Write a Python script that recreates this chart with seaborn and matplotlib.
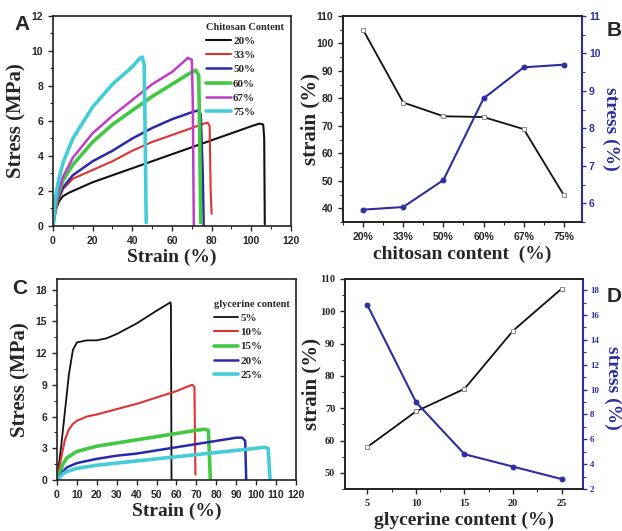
import numpy as np
import pandas as pd
import matplotlib
matplotlib.use("Agg")
import matplotlib.pyplot as plt
import seaborn as sns
from matplotlib.lines import Line2D
from matplotlib.ticker import MultipleLocator

sns.set_style("ticks")
plt.rcParams['font.family'] = ['Liberation Serif', 'DejaVu Serif']

# ---------------- Data ----------------
# Panel A: stress-strain curves vs chitosan content
a_labels = ["20%", "33%", "50%", "60%", "67%", "75%"]
a_colors = ["#111111", "#dd3333", "#2a2aa8", "#44c844", "#c03cc8", "#44ccd8"]
a_widths = [1.5, 1.5, 1.8, 2.6, 1.8, 2.6]
a_strain = [
    [0, 1, 3, 5, 8, 10, 20, 30, 40, 50, 60, 70, 80, 90, 100, 104, 106, 106.5, 106.8],
    [0, 2, 5, 10, 20, 30, 40, 50, 60, 70, 76, 78, 79, 79.5, 80],
    [0, 2, 5, 10, 20, 30, 40, 50, 60, 70, 73, 74.5, 75.5, 76],
    [0, 2, 5, 10, 20, 30, 40, 50, 60, 70, 72, 73.5, 74, 74.5],
    [0, 2, 5, 10, 20, 30, 40, 50, 60, 66, 68, 70, 70.5, 71],
    [0, 1, 3, 5, 10, 20, 30, 40, 44, 45, 46, 46.5, 47],
]
a_stress = [
    [0, 0.8, 1.4, 1.7, 1.9, 2.0, 2.5, 2.9, 3.3, 3.7, 4.1, 4.5, 4.9, 5.3, 5.7, 5.85, 5.8, 5.0, 0.1],
    [0, 1.3, 2.1, 2.7, 3.2, 3.7, 4.3, 4.8, 5.2, 5.6, 5.85, 5.9, 5.7, 2.0, 0.7],
    [0, 1.4, 2.2, 2.9, 3.7, 4.3, 5.0, 5.6, 6.1, 6.5, 6.6, 6.4, 3.0, 0.0],
    [0, 1.6, 2.6, 3.5, 4.8, 5.8, 6.6, 7.4, 8.1, 8.8, 8.9, 8.6, 5.0, 0.2],
    [0, 1.7, 2.8, 3.9, 5.3, 6.3, 7.2, 8.1, 8.8, 9.4, 9.6, 9.5, 7.0, 0.0],
    [0, 1.5, 2.7, 3.6, 5.0, 6.8, 8.1, 9.1, 9.6, 9.65, 9.2, 5.0, 0.2],
]

# Panel B: strain / stress vs chitosan content
b_cats = ["20%", "33%", "50%", "60%", "67%", "75%"]
b_strain = [105, 78.5, 73.5, 73.2, 68.8, 44.7]
b_stress = [5.83, 5.9, 6.62, 8.8, 9.63, 9.7]

# Panel C: stress-strain curves vs glycerine content
c_labels = ["5%", "10%", "15%", "20%", "25%"]
c_colors = ["#111111", "#dd3333", "#44c844", "#2a2aa8", "#44ccd8"]
c_widths = [1.3, 1.5, 2.6, 1.8, 2.6]
c_strain = [
    [0, 2, 4, 6, 8, 10, 15, 20, 25, 30, 40, 50, 57, 57.2, 57.5],
    [0, 2, 4, 6, 8, 10, 15, 20, 30, 40, 50, 60, 65, 68, 69, 69.5],
    [0, 3, 5, 10, 20, 30, 40, 50, 60, 70, 74, 76, 77],
    [0, 3, 5, 10, 20, 30, 40, 50, 60, 70, 80, 90, 93, 94.5, 95],
    [0, 3, 5, 10, 20, 30, 40, 50, 60, 70, 80, 90, 100, 104, 106, 107],
]
c_stress = [
    [0, 3, 6.5, 10, 12.3, 13, 13.2, 13.2, 13.4, 13.8, 14.8, 16.0, 16.8, 16.5, 0],
    [0, 2, 3.8, 4.8, 5.3, 5.6, 6.0, 6.2, 6.7, 7.2, 7.8, 8.4, 8.8, 9.0, 8.8, 0.5],
    [0, 1.5, 2.1, 2.7, 3.2, 3.5, 3.8, 4.1, 4.4, 4.7, 4.8, 4.7, 0],
    [0, 0.8, 1.2, 1.6, 2.0, 2.3, 2.5, 2.8, 3.1, 3.4, 3.7, 4.0, 4.0, 3.7, 0],
    [0, 0.6, 0.8, 1.1, 1.4, 1.6, 1.8, 2.0, 2.2, 2.4, 2.6, 2.8, 3.0, 3.1, 3.0, 0],
]

# Panel D: strain / stress vs glycerine content
d_x = [5, 10, 15, 20, 25]
d_strain = [58, 69, 76, 94, 107]
d_stress = [16.8, 9.0, 4.8, 3.8, 2.8]

BLUE = "#2e2ea0"
SANS = ['Liberation Sans', 'DejaVu Sans']
SERIF = ['Liberation Serif', 'DejaVu Serif']

fig = plt.figure(figsize=(6.22, 5.31), dpi=100)

axA = fig.add_axes([0.0852, 0.5744, 0.3826, 0.3955])
axB = fig.add_axes([0.5514, 0.5819, 0.3843, 0.3880])
axC = fig.add_axes([0.0916, 0.0960, 0.3843, 0.3786])
axD = fig.add_axes([0.5547, 0.0791, 0.3826, 0.3955])


def style_spines(ax, lw=1.2):
    for s in ax.spines.values():
        s.set_linewidth(lw)
        s.set_visible(True)
        s.set_color("#222222")


def curves(ax, labels, colors, widths, xs, ys, title, anchor):
    rows = []
    for lab, x, y in zip(labels, xs, ys):
        for i, (xx, yy) in enumerate(zip(x, y)):
            rows.append({"strain": xx, "stress": yy, "content": lab, "order": i})
    df = pd.DataFrame(rows)
    for lab, col, lw in zip(labels, colors, widths):
        sub = df[df.content == lab]
        sns.lineplot(data=sub, x="strain", y="stress", ax=ax, color=col,
                     linewidth=lw, sort=False, estimator=None, legend=False)
    handles = [Line2D([0], [0], color=c, lw=w) for c, w in zip(colors, widths)]
    leg = ax.legend(handles, labels, title=title, loc="upper right",
                    bbox_to_anchor=anchor,
                    frameon=False, handlelength=2.2, handletextpad=0.2,
                    labelspacing=0.4, borderaxespad=0.2,
                    prop={"family": SERIF, "weight": "bold", "size": 8})
    leg.get_title().set_fontfamily(SERIF)
    leg.get_title().set_fontweight("bold")
    leg.get_title().set_fontsize(7.5)
    leg._legend_box.align = "left"


# ---- Panel A ----
curves(axA, a_labels, a_colors, a_widths, a_strain, a_stress,
       "Chitosan Content", (1.0, 1.0))
axA.set_xlim(0, 120)
axA.set_ylim(0, 12)
axA.set_xticks(range(0, 121, 20))
axA.set_yticks(range(0, 13, 2))
axA.xaxis.set_minor_locator(MultipleLocator(10))
axA.yaxis.set_minor_locator(MultipleLocator(1))
axA.set_xlabel("Strain (%)", fontsize=14, fontweight="bold", labelpad=2)
axA.set_ylabel("Stress (MPa)", fontsize=15, fontweight="bold", labelpad=4)

# ---- Panel C ----
curves(axC, c_labels, c_colors, c_widths, c_strain, c_stress,
       "glycerine content", (1.0, 0.93))
axC.set_xlim(0, 120)
axC.set_ylim(0, 19)
axC.set_xticks(range(0, 121, 10))
axC.set_yticks(range(0, 19, 3))
axC.yaxis.set_minor_locator(MultipleLocator(1.5))
axC.set_xlabel("Strain (%)", fontsize=14, fontweight="bold", labelpad=2)
axC.set_ylabel("Stress (MPa)", fontsize=15, fontweight="bold", labelpad=4)

for ax in (axA, axC):
    style_spines(ax)
    ax.tick_params(which="major", direction="out", length=3.5, width=1, labelsize=7.5)
    ax.tick_params(which="minor", direction="out", length=2, width=0.8)
    for t in ax.get_xticklabels() + ax.get_yticklabels():
        t.set_fontfamily(SANS)
        t.set_fontweight("bold")


# ---- Panel B / D dual axes ----
def dual(ax, x, strain, stress, xlim, ylim1, ylim2, yt1, yt2, xlabel,
         lx, rx, ry, rsize):
    sns.lineplot(x=x, y=strain, ax=ax, color="#111111", linewidth=1.3,
                 marker="s", markersize=3.5, markerfacecolor="white",
                 markeredgecolor="#888888", markeredgewidth=0.7, sort=False)
    ax2 = ax.twinx()
    sns.lineplot(x=x, y=stress, ax=ax2, color=BLUE, linewidth=1.5,
                 marker="o", markersize=3.5, markerfacecolor=BLUE,
                 markeredgecolor=BLUE, sort=False)
    ax.set_xlim(*xlim)
    ax.set_ylim(*ylim1)
    ax2.set_ylim(*ylim2)
    ax.set_yticks(yt1)
    ax2.set_yticks(yt2)
    style_spines(ax)
    style_spines(ax2)
    ax2.spines["right"].set_color(BLUE)
    ax2.spines["right"].set_linewidth(1.5)
    ax.tick_params(which="major", direction="out", length=3.5, width=1, labelsize=7.5)
    ax.tick_params(which="minor", direction="out", length=2, width=0.8)
    ax2.tick_params(which="major", direction="out", length=3, width=1,
                    labelsize=rsize, colors=BLUE, pad=2)
    ax2.tick_params(which="minor", direction="out", length=2, width=0.8,
                    colors=BLUE)
    ax.set_xlabel(xlabel, fontsize=14, fontweight="bold", labelpad=3)
    ax.set_ylabel("strain (%)", fontsize=15, fontweight="bold")
    ax.yaxis.set_label_coords(lx, 0.5)
    ax2.set_ylabel("stress (%)", fontsize=14, fontweight="bold",
                   color=BLUE, rotation=270, va="center")
    ax2.yaxis.set_label_coords(rx, ry)
    return ax2


axB2 = dual(axB, list(range(len(b_cats))), b_strain, b_stress,
            (-0.5, 5.45), (35, 110), (5.5, 11),
            range(40, 111, 10), range(6, 12), "chitosan content  (%)",
            -0.095, 1.118, 0.45, 7.5)
axB.set_xticks(range(len(b_cats)))
axB.set_xticklabels(b_cats)
axB.xaxis.set_minor_locator(MultipleLocator(0.5))
axB.yaxis.set_minor_locator(MultipleLocator(5))
axB2.yaxis.set_minor_locator(MultipleLocator(0.5))
for t in axB.get_xticklabels() + axB.get_yticklabels() + axB2.get_yticklabels():
    t.set_fontfamily(SANS)
    t.set_fontweight("bold")

axD2 = dual(axD, d_x, d_strain, d_stress,
            (2.7, 27.2), (45, 110), (2, 18.9),
            range(50, 111, 10), range(2, 19, 2), "glycerine content (%)",
            -0.10, 1.125, 0.48, 6.5)
axD.set_xticks(d_x)
axD.xaxis.set_minor_locator(MultipleLocator(2.5))
axD.yaxis.set_minor_locator(MultipleLocator(5))
axD2.yaxis.set_minor_locator(MultipleLocator(1))
for t in axD.get_xticklabels() + axD.get_yticklabels() + axD2.get_yticklabels():
    t.set_fontfamily(SERIF)
    t.set_fontweight("bold")

# Panel letters
for lab, px, py in [("A", 22, 25), ("B", 614, 31), ("C", 20, 289), ("D", 614, 296)]:
    fig.text(px / 622, 1 - py / 531, lab, fontsize=15, fontweight="bold",
             family=SANS, ha="center", va="center")

fig.savefig("out.png", dpi=100)
